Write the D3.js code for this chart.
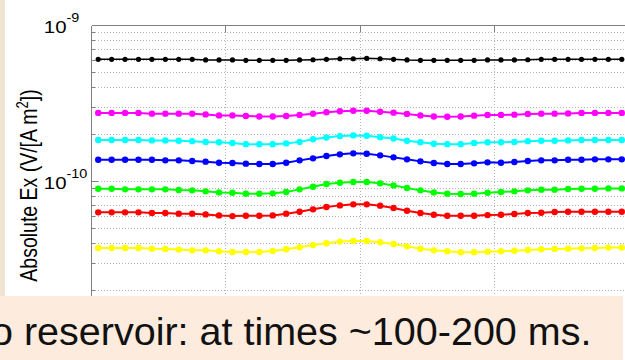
<!DOCTYPE html>
<html><head><meta charset="utf-8">
<script src="https://cdn.jsdelivr.net/npm/d3@7"></script>
<style>html,body{margin:0;padding:0;background:#fff;overflow:hidden}</style>
</head><body>
<svg id="chart" width="625" height="360"></svg>
<script>
// ---- data (values in units of 1e-10 V/(A m^2)) ----
const offsets = [-1950,-1850,-1750,-1650,-1550,-1450,-1350,-1250,-1150,-1050,
  -950,-850,-750,-650,-550,-450,-350,-250,-150,-50,
  50,150,250,350,450,550,650,750,850,950,
  1050,1150,1250,1350,1450,1550,1650,1750,1850,1950];
const black = [6.09,6.09,6.09,6.09,6.09,6.09,6.09,6.09,6.03,6.03,
  6.03,6.00,6.00,6.00,6.00,6.03,6.05,6.09,6.14,6.14,
  6.18,6.14,6.09,6.03,6.00,6.00,6.00,6.00,6.00,6.03,
  6.03,6.03,6.05,6.09,6.09,6.09,6.09,6.09,6.09,6.09];
const magenta = [2.76,2.76,2.76,2.76,2.73,2.73,2.73,2.73,2.70,2.66,
  2.66,2.64,2.62,2.62,2.64,2.68,2.73,2.79,2.83,2.85,
  2.85,2.81,2.77,2.72,2.66,2.62,2.61,2.62,2.65,2.68,
  2.68,2.69,2.72,2.73,2.73,2.74,2.76,2.76,2.76,2.76];
const cyan = [1.85,1.85,1.85,1.85,1.84,1.84,1.83,1.82,1.80,1.79,
  1.77,1.74,1.74,1.74,1.76,1.80,1.87,1.92,1.96,1.98,
  1.97,1.93,1.89,1.83,1.79,1.75,1.74,1.74,1.77,1.79,
  1.79,1.80,1.82,1.83,1.83,1.84,1.85,1.85,1.85,1.85];
const blue = [1.384,1.384,1.384,1.384,1.384,1.370,1.370,1.357,1.344,1.324,
  1.318,1.305,1.298,1.298,1.324,1.370,1.412,1.461,1.497,1.520,
  1.512,1.475,1.432,1.391,1.350,1.318,1.298,1.298,1.311,1.331,
  1.324,1.337,1.357,1.370,1.370,1.384,1.384,1.391,1.391,1.391];
const green = [0.902,0.902,0.893,0.893,0.893,0.893,0.884,0.880,0.867,0.854,
  0.850,0.838,0.838,0.842,0.859,0.893,0.929,0.966,0.985,0.995,
  0.995,0.976,0.947,0.911,0.880,0.854,0.838,0.834,0.838,0.850,
  0.859,0.867,0.880,0.889,0.889,0.897,0.902,0.902,0.906,0.906];
const red = [0.636,0.636,0.636,0.636,0.630,0.630,0.624,0.624,0.617,0.608,
  0.602,0.605,0.605,0.608,0.624,0.642,0.665,0.688,0.705,0.716,
  0.716,0.702,0.678,0.652,0.630,0.614,0.605,0.605,0.605,0.611,
  0.614,0.621,0.630,0.633,0.639,0.642,0.642,0.642,0.642,0.642];
const yellow = [0.376,0.376,0.376,0.376,0.372,0.371,0.367,0.363,0.363,0.358,
  0.354,0.354,0.354,0.360,0.369,0.380,0.393,0.403,0.413,0.417,
  0.417,0.409,0.399,0.385,0.372,0.363,0.358,0.353,0.353,0.356,
  0.358,0.361,0.365,0.369,0.371,0.372,0.374,0.376,0.378,0.378];
const seriesValues = [black, magenta, cyan, blue, green, red, yellow];
const seriesColors = ["#000000","#ff00ff","#00ffff","#0000ff","#00ff00","#ff0000","#ffff00"];
const xGridValues = [-1000, 0, 1000];
const yTickValues = [10, 1];
const yTickBase = ["10", "10"];
const yTickExp = ["-9", "-10"];
const yLabelMain = "Absolute Ex (V/[A m";
const yLabelSup = "2";
const yLabelEnd = "])";
const caption = "o reservoir: at times ~100-200 ms.";

// ---- drawing ----
const svg = d3.select("#chart");
const font = "'Liberation Sans', Arial, sans-serif";
const L = 91.5, R = 628.5, T = 25.7, B = 337.7;
const x = d3.scaleLinear().domain([-2000, 2000]).range([L, R]);
const y = d3.scaleLog().domain([0.1, 10]).range([B, T]);

svg.append("rect").attr("width", 625).attr("height", 360).attr("fill", "#fff");
svg.append("rect").attr("x", 0).attr("y", 0).attr("width", 5).attr("height", 296).attr("fill", "#efe3d1");

// grid
const allTicks = y.ticks().filter(v => v > 0.1 && v < 10);
svg.append("g").selectAll("line").data(allTicks).join("line")
  .attr("x1", L).attr("x2", R).attr("y1", d => y(d)).attr("y2", d => y(d))
  .attr("stroke", "#b4b4b4").attr("stroke-width", 1).attr("stroke-dasharray", "1,2")
  .attr("shape-rendering", "crispEdges");
svg.append("g").selectAll("line").data(xGridValues).join("line")
  .attr("x1", d => x(d)).attr("x2", d => x(d)).attr("y1", T).attr("y2", B)
  .attr("stroke", "#b4b4b4").attr("stroke-width", 1).attr("stroke-dasharray", "1,2")
  .attr("shape-rendering", "crispEdges");

// frame and ticks
const ax = svg.append("g").attr("stroke", "#808080").attr("stroke-width", 1).attr("shape-rendering", "crispEdges");
ax.append("line").attr("x1", L).attr("x2", R).attr("y1", T).attr("y2", T);
ax.append("line").attr("x1", L).attr("x2", L).attr("y1", T).attr("y2", B);
ax.append("line").attr("x1", R).attr("x2", R).attr("y1", T).attr("y2", B);
const isMajor = v => Math.abs(Math.log10(v) - Math.round(Math.log10(v))) < 1e-6;
ax.selectAll(".lt").data(allTicks).join("line").attr("class", "lt")
  .attr("x1", L).attr("x2", d => L + (isMajor(d) ? 6 : 3))
  .attr("y1", d => y(d)).attr("y2", d => y(d));
ax.selectAll(".rt").data(allTicks).join("line").attr("class", "rt")
  .attr("x1", R).attr("x2", d => R - (isMajor(d) ? 6 : 3))
  .attr("y1", d => y(d)).attr("y2", d => y(d));
ax.selectAll(".tt").data(xGridValues).join("line").attr("class", "tt")
  .attr("x1", d => x(d)).attr("x2", d => x(d)).attr("y1", T).attr("y2", T + 6);

// series
const line = d3.line().x((d, i) => x(offsets[i])).y(d => y(d));
seriesValues.forEach((vals, si) => {
  const c = seriesColors[si];
  const isBlack = si === 0;
  svg.append("path").datum(vals).attr("d", line).attr("fill", "none")
    .attr("stroke", c).attr("stroke-width", isBlack ? 1.6 : 2);
  svg.append("g").selectAll("circle").data(vals).join("circle")
    .attr("cx", (d, i) => x(offsets[i])).attr("cy", d => y(d))
    .attr("r", isBlack ? 2.6 : 3.2).attr("fill", c);
});

// y tick labels
yTickValues.forEach((v, i) => {
  const g = svg.append("g").attr("transform", `translate(43.8,${y(v) + 7}) scale(1.2,1)`);
  const t = g.append("text").attr("font-family", font).attr("fill", "#000").attr("font-size", 17);
  t.append("tspan").text(yTickBase[i]);
  t.append("tspan").attr("font-size", 12).attr("dy", -10.5).text(yTickExp[i]);
});

// y label
const yl = svg.append("text").attr("font-family", font).attr("font-size", 19.5).attr("fill", "#000")
  .attr("text-anchor", "middle")
  .attr("transform", "translate(36.5,185.5) scale(1.2,1) rotate(-90)");
yl.append("tspan").text(yLabelMain);
yl.append("tspan").attr("font-size", 13).attr("dy", -7).text(yLabelSup);
yl.append("tspan").attr("dy", 7).text(yLabelEnd);

// caption box
svg.append("rect").attr("x", 0).attr("y", 296).attr("width", 623).attr("height", 64).attr("fill", "#fdebdd");
svg.append("text").attr("x", -9).attr("y", 345).attr("font-family", font).attr("font-size", 39.5)
  .attr("fill", "#111").text(caption);
</script>
</body></html>
